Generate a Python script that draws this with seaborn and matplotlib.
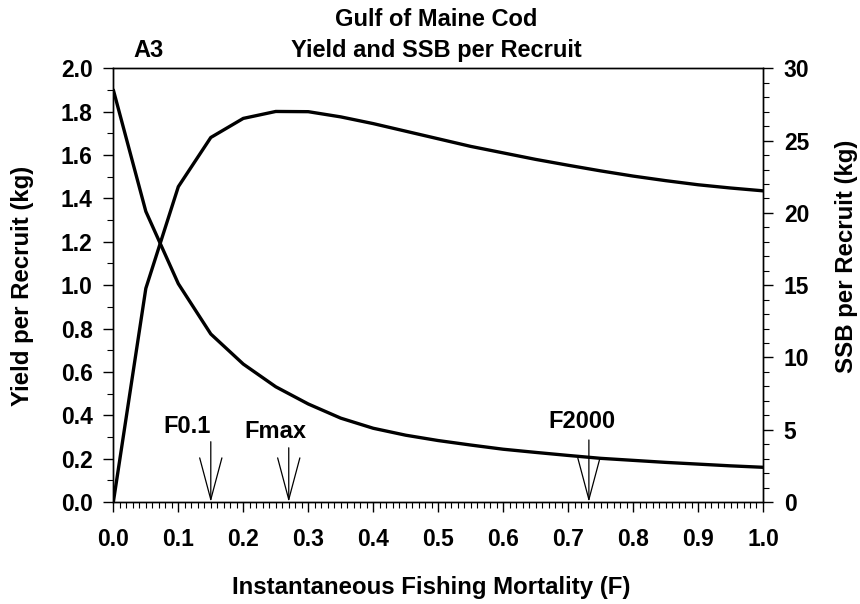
import numpy as np
import pandas as pd
import matplotlib
matplotlib.use("Agg")
import matplotlib.pyplot as plt
from matplotlib.ticker import MultipleLocator, FormatStrFormatter
import seaborn as sns

# -----------------------------------------
# data
# -----------------------------------------
f_values = [0.00, 0.05, 0.10, 0.15, 0.20, 0.25, 0.30, 0.35, 0.40, 0.45, 0.50,
            0.55, 0.60, 0.65, 0.70, 0.75, 0.80, 0.85, 0.90, 0.95, 1.00]
ypr = [0.000, 0.985, 1.454, 1.681, 1.769, 1.801, 1.800, 1.776, 1.745, 1.710, 1.675,
       1.640, 1.610, 1.580, 1.553, 1.527, 1.503, 1.482, 1.463, 1.448, 1.435]
sspr = [28.5, 20.1, 15.1, 11.62, 9.54, 7.97, 6.78, 5.80, 5.10, 4.62, 4.25,
        3.94, 3.65, 3.43, 3.22, 3.02, 2.88, 2.74, 2.62, 2.50, 2.40]

ref_names = ["F0.1", "Fmax", "F2000"]
ref_f = [0.15, 0.27, 0.732]

df = pd.DataFrame({"F": f_values, "YPR": ypr, "SSBPR": sspr})

sns.set_style("ticks")
plt.rcParams["font.family"] = ["Liberation Sans", "DejaVu Sans"]
plt.rcParams["font.weight"] = "bold"
plt.rcParams["text.color"] = "black"
plt.rcParams["axes.labelcolor"] = "black"

fig = plt.figure(figsize=(8.6, 6.04), dpi=100)
ax = fig.add_axes([0.1318, 0.1689, 0.8872 - 0.1318, 0.8869 - 0.1689])
ax2 = ax.twinx()

sns.lineplot(data=df, x="F", y="YPR", ax=ax, color="black", linewidth=2.4)
sns.lineplot(data=df, x="F", y="SSBPR", ax=ax2, color="black", linewidth=2.4)

ax.set_xlim(0, 1.0)
ax.set_ylim(0, 2.0)
ax2.set_ylim(0, 30)

ax.xaxis.set_major_locator(MultipleLocator(0.1))
ax.xaxis.set_minor_locator(MultipleLocator(0.01))
ax.yaxis.set_major_locator(MultipleLocator(0.2))
ax.yaxis.set_minor_locator(MultipleLocator(0.1))
ax2.yaxis.set_major_locator(MultipleLocator(5))
ax2.yaxis.set_minor_locator(MultipleLocator(1))
ax.xaxis.set_major_formatter(FormatStrFormatter("%.1f"))
ax.yaxis.set_major_formatter(FormatStrFormatter("%.1f"))

for a in (ax, ax2):
    for s in a.spines.values():
        s.set_linewidth(1.0)
        s.set_color("black")
    a.tick_params(which="major", direction="out", length=7, width=1.0,
                  labelsize=16.5, colors="black")
    a.tick_params(which="minor", direction="out", length=4, width=0.8, colors="black")
ax.tick_params(axis="x", which="major", pad=12)
ax.tick_params(axis="y", which="major", pad=8)
ax2.tick_params(axis="y", which="major", pad=8)

for lbl in ax.get_xticklabels() + ax.get_yticklabels() + ax2.get_yticklabels():
    lbl.set_fontweight("bold")

ax.set_xlabel("")
ax.set_ylabel("")
ax2.set_ylabel("")
fig.text(0.502, 0.0265, "Instantaneous Fishing Mortality (F)", ha="center",
         va="center", fontsize=17.3, fontweight="bold", color="black")
fig.text(0.0256, 0.5265, "Yield per Recruit (kg)", ha="center", va="center",
         rotation=90, fontsize=17.3, fontweight="bold", color="black")
fig.text(0.984, 0.576, "SSB per Recruit (kg)", ha="center", va="center",
         rotation=90, fontsize=17.3, fontweight="bold", color="black")

# reference point arrows
arrow_tops = [0.278, 0.25, 0.286]
label_pos = [(0.113, 0.346), (0.249, 0.327), (0.721, 0.369)]
for name, fx, top, (lx, ly) in zip(ref_names, ref_f, arrow_tops, label_pos):
    ax.annotate("", xy=(fx, 0), xytext=(fx, top),
                arrowprops=dict(arrowstyle="->, head_length=1.5, head_width=0.4",
                                mutation_scale=20, color="black", lw=0.9,
                                shrinkA=0, shrinkB=0))
    ax.text(lx, ly, name, ha="center", va="center", fontsize=17,
            fontweight="bold", color="black")

fig.text(0.5076, 0.967, "Gulf of Maine Cod", ha="center", va="center",
         fontsize=17, fontweight="bold", color="black")
fig.text(0.5076, 0.9156, "Yield and SSB per Recruit", ha="center", va="center",
         fontsize=17, fontweight="bold", color="black")
fig.text(0.173, 0.9156, "A3", ha="center", va="center", fontsize=17,
         fontweight="bold", color="black")

fig.savefig("out.png", dpi=100)
